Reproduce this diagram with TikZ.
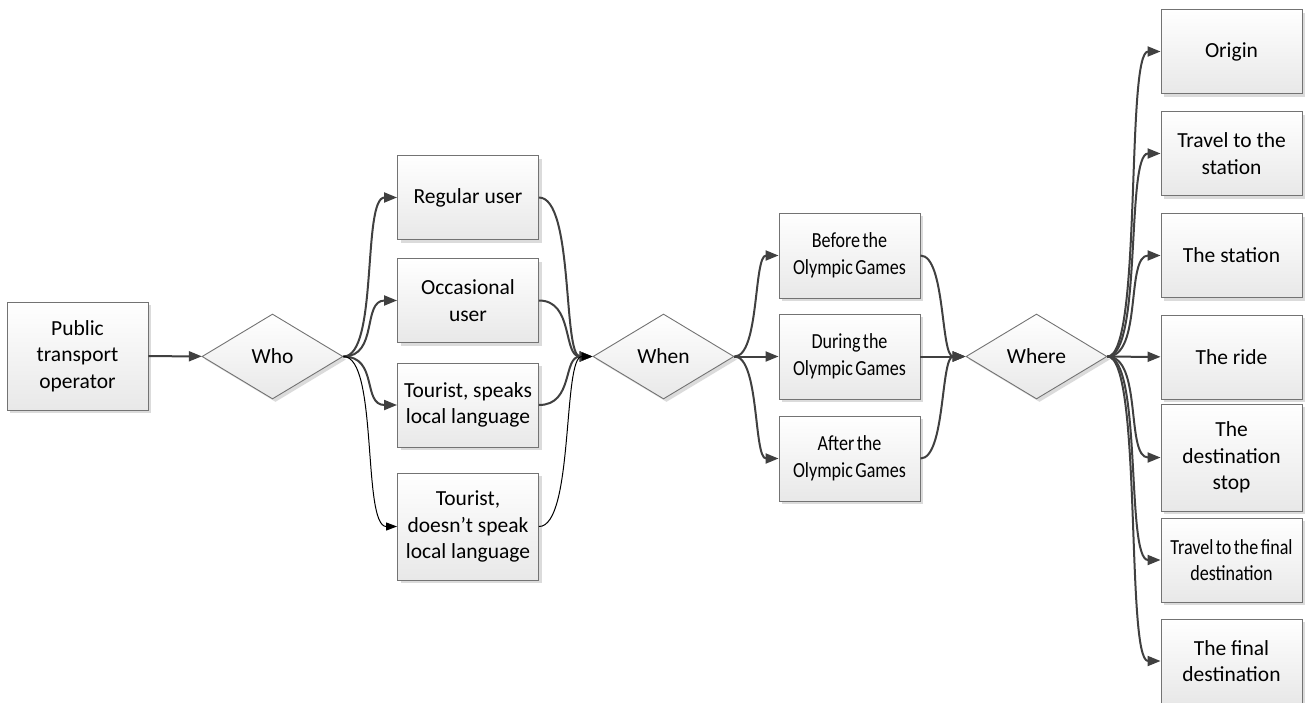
\documentclass[tikz,border=0pt]{standalone}
\usepackage{fontspec}
\setmainfont{Carlito}
\newfontfamily\narrowfont[FakeStretch=0.84,WordSpace=0.6]{Carlito}
\usetikzlibrary{shapes.geometric,shadows,arrows.meta}

\begin{document}
\begin{tikzpicture}[x=1pt,y=-1pt,font=\fontsize{21.5}{26.5}\selectfont,
    every node/.style={draw=black!55,line width=0.9pt,top color=white,bottom color=black!9,
      drop shadow={shadow xshift=3pt,shadow yshift=-3pt,fill=black!20,opacity=0.7},
      align=center,inner sep=2pt},
    box/.style={minimum width=141pt,minimum height=84pt},
    tall/.style={box,minimum height=107pt},
    ask/.style={diamond,aspect=1.66,minimum width=141pt,minimum height=85pt,inner sep=0},
    link/.style={color=black!75,line width=2pt,-{Triangle[length=13pt,width=10pt]}},
    thinlink/.style={color=black,line width=1pt,-{Triangle[length=11pt,width=8pt]}}]
  \useasboundingbox (0,0) rectangle (1306,702);
  \node[box,minimum height=108pt] (op) at (77.5,356) {Public\\transport\\operator};
  \node[ask] (who) at (272.5,356.5) {Who};
  \node[box] (reg) at (468,197.5) {Regular user};
  \node[box] (occ) at (468,300.5) {Occasional\\user};
  \node[box] (tsp) at (468,405) {Tourist, speaks\\local language};
  \node[tall] (tns) at (468,526.5) {Tourist,\\doesn't speak\\local language};
  \node[ask] (when) at (663.5,356.5) {When};
  \node[box,minimum height=85pt] (bef) at (849.5,255.5) {\narrowfont Before the\\\narrowfont Olympic Games};
  \node[box,minimum height=85pt] (dur) at (849.5,356.5) {\narrowfont During the\\\narrowfont Olympic Games};
  \node[box,minimum height=85pt] (aft) at (849.5,458.5) {\narrowfont After the\\\narrowfont Olympic Games};
  \node[ask] (where) at (1036.5,356.5) {Where};
  \node[box] (ori) at (1231.5,51.5) {Origin};
  \node[box] (tts) at (1231.5,153.5) {Travel to the\\station};
  \node[box] (sta) at (1231.5,255.5) {The station};
  \node[box] (ride) at (1231.5,357) {The ride};
  \node[tall] (dst) at (1231.5,457.5) {The\\destination\\stop};
  \node[box] (ttf) at (1231.5,560) {\narrowfont Travel to the final\\\narrowfont destination};
  \node[box] (fin) at (1231.5,661) {The final\\destination};

  % who
  \draw[link] (op) -- (who);
  \draw[link] (who.east) .. controls +(35,0) and +(-35,0) .. (reg.west);
  \draw[link] (who.east) .. controls +(35,0) and +(-35,0) .. (occ.west);
  \draw[link] (who.east) .. controls +(35,0) and +(-35,0) .. (tsp.west);
  \draw[thinlink] (who.east) .. controls +(35,0) and +(-35,0) .. (tns.west);
  % when
  \draw[link] (reg.east) .. controls +(35,0) and +(-30,0) .. (when.west);
  \draw[link] (occ.east) .. controls +(35,0) and +(-30,0) .. (when.west);
  \draw[link] (tsp.east) .. controls +(35,0) and +(-30,0) .. (when.west);
  \draw[thinlink] (tns.east) .. controls +(35,0) and +(-30,0) .. (when.west);
  \draw[link] (when.east) .. controls +(25,0) and +(-25,0) .. (bef.west);
  \draw[link] (when) -- (dur);
  \draw[link] (when.east) .. controls +(25,0) and +(-25,0) .. (aft.west);
  % where
  \draw[link] (bef.east) .. controls +(25,0) and +(-25,0) .. (where.west);
  \draw[link] (dur) -- (where);
  \draw[link] (aft.east) .. controls +(25,0) and +(-25,0) .. (where.west);
  \foreach \t in {ori,tts,sta,dst,ttf,fin}
    \draw[link] (where.east) .. controls +(35,0) and +(-35,0) .. (\t.west);
  \draw[link] (where) -- (ride);
\end{tikzpicture}
\end{document}
